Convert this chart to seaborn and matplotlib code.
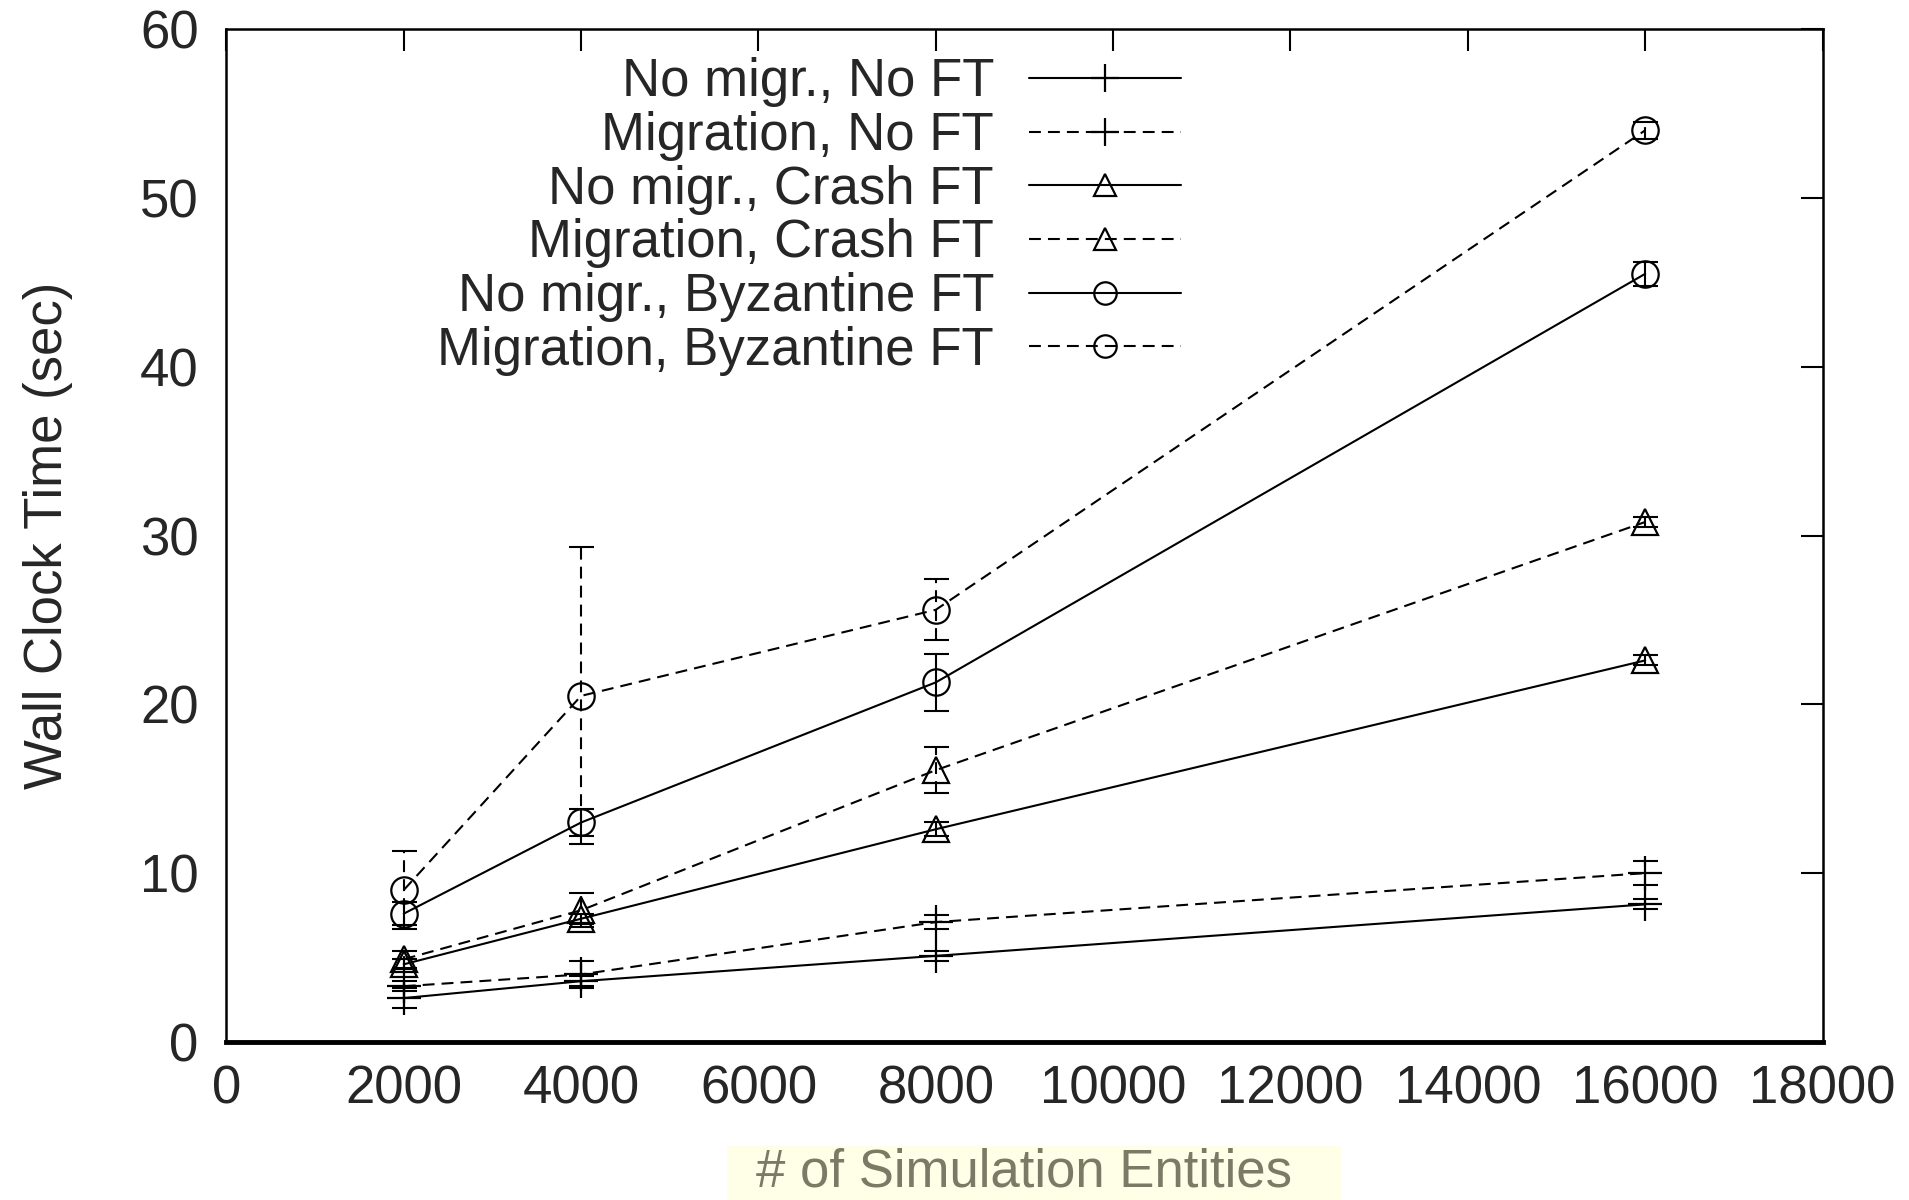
import matplotlib
matplotlib.use("Agg")
import matplotlib.pyplot as plt
from matplotlib import font_manager
from matplotlib.patches import Rectangle
import seaborn as sns
import numpy as np
import pandas as pd

# ---- data ----
entities = [2000, 4000, 8000, 16000]
labels = ["No migr., No FT", "Migration, No FT", "No migr., Crash FT",
          "Migration, Crash FT", "No migr., Byzantine FT", "Migration, Byzantine FT"]
nomig_noft = [2.6, 3.6, 5.1, 8.15]
mig_noft = [3.3, 4.0, 7.1, 10.0]
nomig_crash = [4.6, 7.3, 12.6, 22.6]
mig_crash = [4.9, 7.8, 16.1, 30.8]
nomig_byz = [7.6, 13.0, 21.3, 45.5]
mig_byz = [9.0, 20.5, 25.6, 54.0]

err_nomig_noft = [0.6, 0.3, 0.3, 0.3]
err_mig_noft = [0.3, 0.8, 0.4, 0.7]
err_nomig_crash = [0.3, 0.3, 0.4, 0.3]
err_mig_crash = [0.5, 1.0, 1.35, 0.3]
err_nomig_byz = [0.7, 0.8, 1.7, 0.7]
err_mig_byz = [2.3, 8.8, 1.8, 0.5]

series = [nomig_noft, mig_noft, nomig_crash, mig_crash, nomig_byz, mig_byz]
errors = [err_nomig_noft, err_mig_noft, err_nomig_crash, err_mig_crash, err_nomig_byz, err_mig_byz]
markers = ["+", "+", "^", "^", "o", "o"]
dashed = [False, True, False, True, False, True]

# ---- style ----
sns.set_style("white")
fam = "DejaVu Sans"
for cand in ["Liberation Sans Narrow", "Liberation Sans"]:
    try:
        font_manager.findfont(cand, fallback_to_default=False)
        fam = cand
        break
    except Exception:
        pass
plt.rcParams["font.family"] = [fam, "DejaVu Sans"]

FS = 38
fig = plt.figure(figsize=(19.09, 12.0), dpi=100)
ax = fig.add_axes([0.1186, 0.1317, 0.8361, 0.8441])

dash_style = (0, (5.7, 3.4))
LW = 1.5
for vals, errs, m, d, lab in zip(series, errors, markers, dashed, labels):
    df = pd.DataFrame({"x": entities, "y": vals})
    ls = dash_style if d else "-"
    ms = 24 if m == "+" else 19
    sns.lineplot(data=df, x="x", y="y", ax=ax, color="black", linestyle=ls,
                 linewidth=LW, marker=m, markersize=ms, markerfacecolor="none",
                 markeredgecolor="black", markeredgewidth=1.6, label=lab,
                 errorbar=None)
    eb = ax.errorbar(entities, vals, yerr=errs, fmt="none", ecolor="black",
                     elinewidth=LW, capsize=9, capthick=LW)
    if d:
        for lc in eb[2]:
            lc.set_linestyle(dash_style)

ax.set_xlim(0, 18000)
ax.set_ylim(0, 60)
ax.set_xticks(np.arange(0, 18001, 2000))
ax.set_yticks(np.arange(0, 61, 10))
ax.tick_params(axis="both", direction="in", length=16, width=1.5,
               labelsize=FS, top=True, right=True, color="black")
ax.tick_params(axis="x", pad=16)
ax.tick_params(axis="y", pad=20)
for s in ax.spines.values():
    s.set_linewidth(1.8)
    s.set_color("black")
ax.spines["bottom"].set_linewidth(3.5)

ax.set_ylabel("Wall Clock Time (sec)", fontsize=FS, labelpad=48)
ax.set_xlabel("# of Simulation Entities", fontsize=FS, color="#7a7a66", labelpad=24)

leg = ax.legend(loc="upper right", bbox_to_anchor=(0.598, 0.972), frameon=False,
                fontsize=FS, markerfirst=False, handlelength=2.87, handletextpad=0.67,
                labelspacing=0.07, borderaxespad=0, borderpad=0, markerscale=0.85)

# highlight box behind the x-axis label
fig.canvas.draw()
r = fig.canvas.get_renderer()
bb = ax.xaxis.label.get_window_extent(r)
padl, padr, padtop = 29, 49, 2
W, H = fig.bbox.width, fig.bbox.height
rect = Rectangle(((bb.x0 - padl) / W, 0), (bb.width + padl + padr) / W,
                 (bb.y1 + padtop) / H, transform=fig.transFigure,
                 facecolor="#fffee6", edgecolor="none", zorder=-5)
fig.patches.append(rect)

fig.savefig("out.png", dpi=100)
